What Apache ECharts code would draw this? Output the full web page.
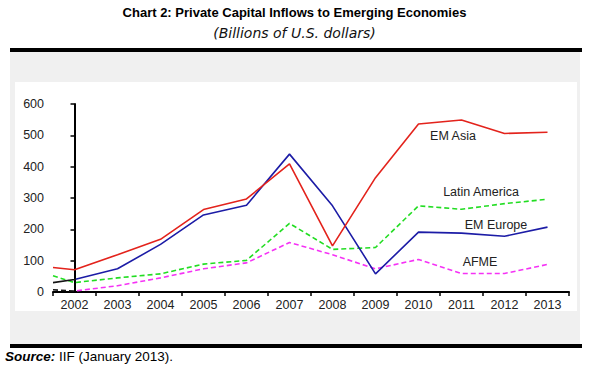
<!DOCTYPE html>
<html>
<head>
<meta charset="utf-8">
<script src="https://cdn.jsdelivr.net/npm/echarts@6/dist/echarts.min.js"></script>
<style>
html,body{margin:0;padding:0;background:#fff;}
#chart{width:589px;height:380px;}
</style>
</head>
<body>
<div id="chart"></div>
<script>
// ---- data ----
const years = ['2002','2003','2004','2005','2006','2007','2008','2009','2010','2011','2012','2013'];
const seriesNames = ['EM Asia','EM Europe','Latin America','AFME'];
// value at the left edge of the plot (before 2002)
const edgeValues = [78, 30, 52, 7];
const emAsia = [71,119,168,263,297,409,147,365,536,549,506,510];
const emEurope = [40,74,152,246,277,440,275,58,191,188,178,207];
const latinAmerica = [30,45,58,89,101,219,136,142,275,264,282,296];
const afme = [3,20,45,74,93,158,119,74,104,59,59,88];
const yTicks = [0,100,200,300,400,500,600];

const allValues = [emAsia, emEurope, latinAmerica, afme];
function build(idx){
  const d = [[-0.5, edgeValues[idx]]];
  allValues[idx].forEach((v,i)=>d.push([i, v]));
  return d;
}
const colors = ['#e3231c','#1c1ca6','#22dd22','#f532f5'];
const dashed = [false,false,true,true];
// first segment of EM Europe and AFME appears dark in the reference
function lineColor(i){
  if (i === 1 || i === 3) {
    const s = 76/589;
    return {type:'linear', x:0, y:0, x2:589, y2:0, global:true,
      colorStops:[{offset:0,color:'#151515'},{offset:s,color:'#151515'},{offset:s,color:colors[i]},{offset:1,color:colors[i]}]};
  }
  return colors[i];
}

const chart = echarts.init(document.getElementById('chart'), null, {renderer:'svg'});
const font = 'Liberation Sans, Arial, sans-serif';
const option = {
  animation:false,
  backgroundColor:'#ffffff',
  graphic:[
    {type:'rect', z:-10, shape:{x:10,y:48,width:572,height:4}, style:{fill:'#000'}},
    {type:'rect', z:-10, shape:{x:10,y:52,width:570,height:292}, style:{fill:'#f0f0f0'}},
    {type:'rect', z:-9, shape:{x:15,y:82,width:562,height:229}, style:{fill:'#ffffff'}},
    {type:'rect', z:-10, shape:{x:10,y:344,width:572,height:4}, style:{fill:'#000'}},
    {type:'text', left:'center', top:6, style:{text:'Chart 2: Private Capital Inflows to Emerging Economies', font:'bold 13px "Liberation Sans Narrow", "Arial Narrow", sans-serif', fill:'#000'}},
    {type:'text', left:'center', top:26, style:{text:'(Billions of U.S. dollars)', font:'oblique 14px "DejaVu Sans", sans-serif', fill:'#111'}},
    {type:'text', left:5, top:349, style:{text:'{b|Source:} IIF (January 2013).', font:'13.5px "Liberation Sans Narrow", Arial, sans-serif', fill:'#000',
      rich:{b:{font:'italic bold 13.5px "Liberation Sans Narrow", Arial, sans-serif', fill:'#000'}}}},
    {type:'text', x:453, y:136, style:{text:'EM Asia', font:'12.5px "Liberation Sans", Arial, sans-serif', fill:'#222', align:'center', verticalAlign:'middle'}},
    {type:'text', x:481, y:192, style:{text:'Latin America', font:'12.5px "Liberation Sans", Arial, sans-serif', fill:'#222', align:'center', verticalAlign:'middle'}},
    {type:'text', x:496, y:225, style:{text:'EM Europe', font:'12.5px "Liberation Sans", Arial, sans-serif', fill:'#222', align:'center', verticalAlign:'middle'}},
    {type:'text', x:480, y:262, style:{text:'AFME', font:'12.5px "Liberation Sans", Arial, sans-serif', fill:'#222', align:'center', verticalAlign:'middle'}}
  ],
  grid:{left:53, right:20, top:104, bottom:88, containLabel:false},
  xAxis:[
    {type:'category', data:years, boundaryGap:true,
     axisLine:{lineStyle:{color:'#000', width:2}},
     axisTick:{show:true, alignWithLabel:false, length:4, lineStyle:{color:'#000', width:1.5}},
     axisLabel:{color:'#222', fontSize:12.5, fontFamily:font, margin:6},
     splitLine:{show:false}},
    {type:'value', min:-0.5, max:11.5, show:false}
  ],
  yAxis:{type:'value', min:yTicks[0], max:yTicks[yTicks.length-1], interval:100,
     axisLine:{show:true, lineStyle:{color:'#000', width:2}},
     axisTick:{show:true, length:4, lineStyle:{color:'#000', width:1.5}},
     axisLabel:{color:'#222', fontSize:12.5, fontFamily:font, margin:9},
     splitLine:{show:false}},
  series: seriesNames.map((n,i)=>({
    name:n, type:'line', xAxisIndex:1, data:build(i), symbol:'none', z:2+(3-i),
    lineStyle:{color:lineColor(i), width:1.6, type: dashed[i] ? [5,3] : 'solid'},
    itemStyle:{color:colors[i]}
  }))
};
chart.setOption(option);
</script>
</body>
</html>
